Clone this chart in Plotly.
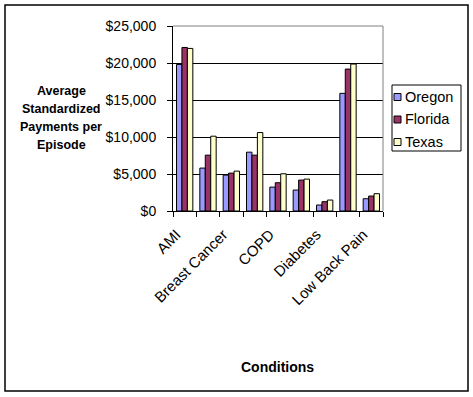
import plotly.graph_objects as go

# ---- data ----
tick_labels = ["AMI", "", "Breast Cancer", "", "COPD", "", "Diabetes", "", "Low Back Pain"]
oregon = [19800, 5800, 4850, 7950, 3230, 2830, 810, 15900, 1660]
florida = [22100, 7550, 5120, 7550, 3820, 4180, 1260, 19180, 2020]
texas = [21970, 10110, 5390, 10600, 5030, 4310, 1480, 19860, 2340]
series_names = ["Oregon", "Florida", "Texas"]
series_colors = ["#9999FF", "#993366", "#FFFFCC"]
y_ticks = [0, 5000, 10000, 15000, 20000, 25000]
y_title_lines = ["Average", "Standardized", "Payments per", "Episode"]
x_title = "Conditions"

W, H = 473, 397
L, R, T, B = 173, 383, 26, 211  # plot area in pixels
FONT = "Arial, Liberation Sans, sans-serif"
LABEL_SHIFT = -0.35  # rotated labels sit slightly left of the group centre

x = list(range(len(tick_labels)))
fig = go.Figure()
for name, vals, col in zip(series_names, [oregon, florida, texas], series_colors):
    fig.add_trace(go.Bar(
        x=x, y=vals, name=name,
        marker=dict(color=col, line=dict(color="black", width=1)),
    ))

pw, ph = R - L, B - T
def px(v):
    return (v - L) / pw
def py(v):
    return (B - v) / ph

shapes = [
    # gray plot-area border top and right
    dict(type="line", xref="paper", yref="paper", x0=0, x1=1, y0=1, y1=1,
         line=dict(color="#808080", width=1), layer="above"),
    dict(type="line", xref="paper", yref="paper", x0=1, x1=1, y0=0, y1=1,
         line=dict(color="#808080", width=1), layer="above"),
    # outer chart border
    dict(type="rect", xref="paper", yref="paper",
         x0=px(5), x1=px(468), y0=py(391), y1=py(5),
         line=dict(color="black", width=1.5), fillcolor="rgba(0,0,0,0)"),
    # legend box
    dict(type="rect", xref="paper", yref="paper",
         x0=px(392), x1=px(461), y0=py(151), y1=py(85),
         line=dict(color="black", width=1), fillcolor="white", layer="above"),
]
annotations = []
for line_text, ly in zip(y_title_lines, [91, 109, 127, 145]):
    annotations.append(dict(text="<b>" + line_text + "</b>",
                            xref="paper", yref="paper", x=px(61), y=py(ly),
                            xanchor="center", yanchor="middle", showarrow=False,
                            font=dict(family=FONT, size=12.5, color="black")))
annotations.append(dict(text="<b>" + x_title + "</b>",
                        xref="paper", yref="paper", x=px(277), y=py(367),
                        xanchor="center", yanchor="middle", showarrow=False,
                        font=dict(family=FONT, size=14, color="black")))
# manual legend entries
row_y = [97, 119.5, 142]
for name, col, ry in zip(series_names, series_colors, row_y):
    shapes.append(dict(type="rect", xref="paper", yref="paper",
                       x0=px(394), x1=px(401), y0=py(ry + 3.5), y1=py(ry - 3.5),
                       line=dict(color="black", width=1), fillcolor=col, layer="above"))
    annotations.append(dict(text=name, xref="paper", yref="paper",
                            x=px(403), y=py(ry), xanchor="left", yanchor="middle",
                            showarrow=False,
                            font=dict(family=FONT, size=14.5, color="black")))

fig.update_layout(
    width=W, height=H, autosize=False,
    margin=dict(l=L, r=W - R, t=T, b=H - B, pad=0),
    paper_bgcolor="white", plot_bgcolor="white",
    barmode="group", bargap=0.3, bargroupgap=0,
    font=dict(family=FONT, size=14, color="black"),
    showlegend=False,
    xaxis=dict(
        range=[-0.5, len(tick_labels) - 0.5],
        tickmode="array",
        tickvals=[i + LABEL_SHIFT for i, t in enumerate(tick_labels) if t],
        ticktext=[t for t in tick_labels if t],
        tickangle=-45, ticks="", ticklen=0,
        showgrid=False, zeroline=False,
        showline=True, linecolor="black", linewidth=1,
        tickfont=dict(family=FONT, size=15, color="black"),
        ticklabelstandoff=8,
        minor=dict(
            tickmode="array",
            tickvals=[i - 0.5 for i in range(len(tick_labels) + 1)],
            ticks="outside", ticklen=5, tickcolor="black", showgrid=False,
        ),
    ),
    yaxis=dict(
        range=[0, 25000], tickmode="array", tickvals=y_ticks,
        ticktext=["$" + f"{v:,}" for v in y_ticks],
        ticks="outside", ticklen=5, tickcolor="black",
        showgrid=True, gridcolor="black", gridwidth=1,
        zeroline=False, showline=True, linecolor="black", linewidth=1,
        tickfont=dict(family=FONT, size=14, color="black"),
        ticklabelstandoff=8,
    ),
    shapes=shapes,
    annotations=annotations,
)

fig.write_html("out.html", config={"displayModeBar": False},
               post_script="document.body.style.margin='0';")
